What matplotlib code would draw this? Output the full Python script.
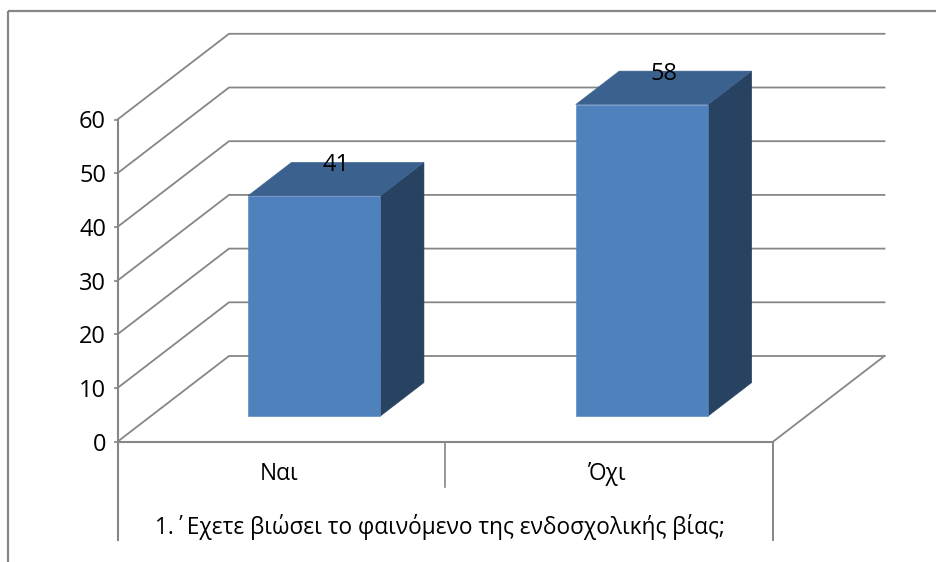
import matplotlib
matplotlib.use("Agg")
import matplotlib.pyplot as plt
from matplotlib.lines import Line2D
from matplotlib.patches import Polygon

plt.rcParams['font.family'] = ['Open Sans', 'DejaVu Sans']

categories = ['Ναι', 'Όχι']
values = [41, 58]
yticks = [0, 10, 20, 30, 40, 50, 60]
axis_title = '1.΄Εχετε βιώσει το φαινόμενο της ενδοσχολικής βίας;'

W, H = 937, 562
GRID = '#868686'
FRONT, TOP, SIDE = '#4F81BD', '#3B618F', '#284261'
FS_NUM, FS_TXT = 17, 16.3

fig = plt.figure(figsize=(W / 100, H / 100), dpi=100)
L, R, T, B = 117.5, 773.0, 119.5, 441.7
ax = fig.add_axes([L / W, 1 - B / H, (R - L) / W, (B - T) / H])
ax.set_xlim(0, 2)
ax.set_ylim(0, 60)
for s in ax.spines.values():
    s.set_visible(False)
ax.patch.set_alpha(0)

PX_X = 2 / (R - L)
PX_Y = 60 / (B - T)
DX = 111.5 * PX_X
DY = 85.7 * PX_Y


def proj(x, y, d):
    return x + d * DX, y + d * DY


# outer frame
for xs, ys in [((8, 8), (11, 562)), ((8, 937), (11, 11))]:
    fig.add_artist(Line2D([x / W for x in xs], [1 - y / H for y in ys],
                          color=GRID, lw=1.6, solid_capstyle='butt'))

lw = 1.3
# gridlines: side wall and back wall
for v in yticks:
    p0, p1, p2 = proj(0, v, 0), proj(0, v, 1), proj(2, v, 1)
    ax.plot([p0[0], p1[0], p2[0]], [p0[1], p1[1], p2[1]], color=GRID, lw=lw,
            clip_on=False, zorder=1, solid_joinstyle='miter')
# floor edges
p3 = proj(2, 0, 1)
ax.plot([2, p3[0]], [0, p3[1]], color=GRID, lw=lw, clip_on=False, zorder=1)
ax.plot([0, 2], [0, 0], color=GRID, lw=1.5, clip_on=False, zorder=1)

# axis and separators below the floor
BOT = -(540 - B) * PX_Y
MID = -(487 - B) * PX_Y
ax.plot([0, 0], [60, BOT], color=GRID, lw=1.5, clip_on=False, zorder=1)
ax.plot([2, 2], [0, BOT], color=GRID, lw=1.4, clip_on=False, zorder=1)
ax.plot([1, 1], [0, MID], color=GRID, lw=1.2, clip_on=False, zorder=1)

ax.set_yticks(yticks)
ax.tick_params(axis='y', length=3.2, width=1.2, color=GRID, labelsize=FS_NUM, pad=5)
ax.set_xticks([])

# 3-D bars
D0, D1 = 0.30, 0.69
BW = 132.5 * PX_X
SHIFT = -0.6 * PX_X
for i, (name, v) in enumerate(zip(categories, values)):
    c = i + 0.5 + SHIFT
    x0, x1 = c - BW / 2, c + BW / 2
    front = [proj(x0, 0, D0), proj(x1, 0, D0), proj(x1, v, D0), proj(x0, v, D0)]
    side = [proj(x1, 0, D0), proj(x1, 0, D1), proj(x1, v, D1), proj(x1, v, D0)]
    top = [proj(x0, v, D0), proj(x1, v, D0), proj(x1, v, D1), proj(x0, v, D1)]
    for pts, col in ((side, SIDE), (top, TOP), (front, FRONT)):
        ax.add_patch(Polygon(pts, closed=True, facecolor=col, edgecolor=col, lw=0.4,
                             clip_on=False, zorder=3))
    lx, _ = proj(c, v, (D0 + D1) / 2)
    _, ly = proj(c, v, D1)
    ax.text(lx, ly - 3 * PX_Y, str(v), ha='center', va='center', fontsize=FS_NUM,
            color='black', clip_on=False, zorder=5)
    ax.text(i + 0.5 - 2 * PX_X, -(474 - B) * PX_Y, name, ha='center', va='center',
            fontsize=FS_TXT, color='black', clip_on=False)

ax.text(1 - 5 * PX_X, -(527 - B) * PX_Y, axis_title, ha='center', va='center',
        fontsize=FS_TXT, color='black', clip_on=False)

fig.savefig('out.png', dpi=100, facecolor='white')
